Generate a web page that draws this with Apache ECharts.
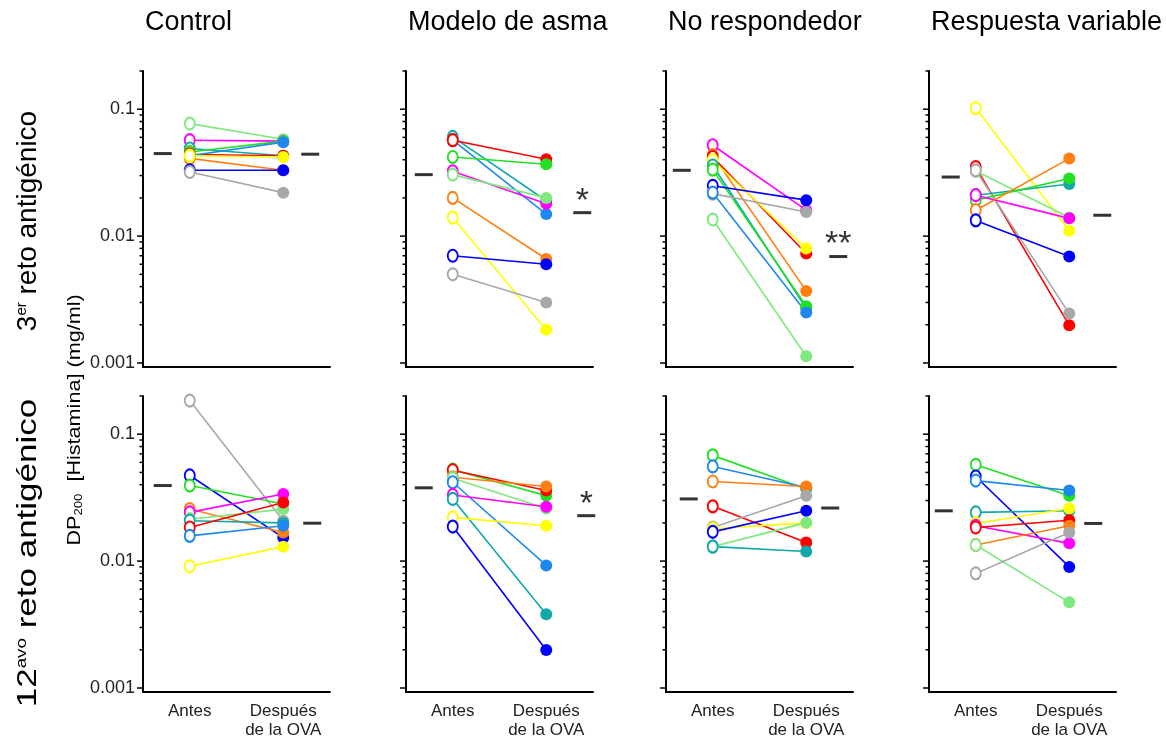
<!DOCTYPE html>
<html>
<head>
<meta charset="utf-8">
<script src="https://cdn.jsdelivr.net/npm/echarts@6/dist/echarts.min.js"></script>
<style>
  html, body { margin: 0; padding: 0; background: #fff; }
  #chart { width: 1166px; height: 740px; }
</style>
</head>
<body>
<div id="chart"></div>
<script>
// columnas y categorias
var groups = ['Control', 'Modelo de asma', 'No respondedor', 'Respuesta variable'];
var categories = ['Antes', 'Después\nde la OVA'];
var tickLabels = { '-3': '0.001', '-2': '0.01', '-1': '0.1' };
var decades = [0.001, 0.01, 0.1];
var minorSteps = [2, 3, 4, 5, 6, 7, 8, 9];

// 3er reto antigenico
var control3Ids = ['verdeClaro', 'magenta', 'turquesa', 'verde', 'rojo', 'azulCielo', 'naranja', 'amarillo', 'azul', 'gris'];
var control3Antes = [0.077, 0.057, 0.049, 0.046, 0.044, 0.043, 0.041, 0.043, 0.033, 0.032];
var control3Despues = [0.058, 0.056, 0.043, 0.056, 0.043, 0.055, 0.033, 0.042, 0.033, 0.022];
var control3Media = [0.0447, 0.0442];

var asma3Ids = ['turquesa', 'azulCielo', 'rojo', 'verde', 'magenta', 'verdeClaro', 'naranja', 'amarillo', 'azul', 'gris'];
var asma3Antes = [0.0605, 0.057, 0.057, 0.042, 0.0324, 0.0305, 0.020, 0.014, 0.007, 0.005];
var asma3Despues = [0.019, 0.0149, 0.0403, 0.0368, 0.018, 0.020, 0.0066, 0.00183, 0.006, 0.003];
var asma3Media = [0.0305, 0.0153];

var noResp3Ids = ['magenta', 'naranja', 'rojo', 'amarillo', 'turquesa', 'verde', 'azul', 'gris', 'azulCielo', 'verdeClaro'];
var noResp3Antes = [0.052, 0.0434, 0.042, 0.0396, 0.036, 0.0334, 0.0249, 0.0216, 0.022, 0.0135];
var noResp3Despues = [0.016, 0.0037, 0.0073, 0.008, 0.0027, 0.0028, 0.0192, 0.0155, 0.0025, 0.00113];
var noResp3Media = [0.033, 0.0069];

var varia3Ids = ['amarillo', 'rojo', 'verdeClaro', 'gris', 'turquesa', 'verde', 'magenta', 'naranja', 'azul'];
var varia3Antes = [0.102, 0.035, 0.0326, 0.033, 0.021, 0.0192, 0.021, 0.016, 0.0133];
var varia3Despues = [0.011, 0.00198, 0.014, 0.00245, 0.0257, 0.0284, 0.0138, 0.0408, 0.0069];
var varia3Media = [0.0292, 0.0146];

// 12avo reto antigenico
var control12Ids = ['gris', 'azul', 'verde', 'naranja', 'magenta', 'verdeClaro', 'turquesa', 'rojo', 'azulCielo', 'amarillo'];
var control12Antes = [0.184, 0.0473, 0.0394, 0.0257, 0.0242, 0.0214, 0.0208, 0.0184, 0.0158, 0.0091];
var control12Despues = [0.0208, 0.0153, 0.0282, 0.0168, 0.0338, 0.0257, 0.020, 0.029, 0.019, 0.013];
var control12Media = [0.0394, 0.0199];

var asma12Ids = ['verde', 'rojo', 'naranja', 'verdeClaro', 'azulCielo', 'magenta', 'turquesa', 'amarillo', 'azul'];
var asma12Antes = [0.0525, 0.052, 0.0458, 0.045, 0.0418, 0.0332, 0.0309, 0.0221, 0.0187];
var asma12Despues = [0.0328, 0.036, 0.0387, 0.026, 0.00925, 0.0268, 0.00382, 0.019, 0.00199];
var asma12Media = [0.0378, 0.0228];

var noResp12Ids = ['verde', 'azulCielo', 'naranja', 'rojo', 'gris', 'amarillo', 'azul', 'verdeClaro', 'turquesa'];
var noResp12Antes = [0.0681, 0.0557, 0.0424, 0.027, 0.0184, 0.018, 0.017, 0.013, 0.013];
var noResp12Despues = [0.037, 0.038, 0.0387, 0.014, 0.0328, 0.020, 0.0249, 0.0201, 0.0119];
var noResp12Media = [0.0309, 0.0262];

var varia12Ids = ['verde', 'azul', 'azulCielo', 'turquesa', 'amarillo', 'magenta', 'rojo', 'naranja', 'verdeClaro', 'gris'];
var varia12Antes = [0.0574, 0.0464, 0.0431, 0.0242, 0.0198, 0.019, 0.0184, 0.0134, 0.0134, 0.008];
var varia12Despues = [0.0328, 0.009, 0.036, 0.0249, 0.026, 0.0138, 0.021, 0.019, 0.00473, 0.0168];
var varia12Media = [0.0249, 0.0198];

// significancia (texto sobre la media despues)
var signif = ['', '*', '**', '', '', '*', '', ''];

// estilos
var palette = {
  rojo: '#ff0000', verde: '#22e022', verdeClaro: '#7fe87f', magenta: '#ff00ff',
  azul: '#0000ff', azulCielo: '#1e88f0', turquesa: '#10a8a8', naranja: '#ff8010',
  amarillo: '#ffff00', gris: '#a8a8a8'
};
var FONT = 'Liberation Sans, Arial, sans-serif';
var lefts = [143, 406, 666, 929];
var tops = [71, 396];
var W = 187, H = 296;
// desplazamiento (px) de las barras de media respecto a cada categoria
var meanOffsets = [[-27, 27], [-29, 36], [-31, 32], [-25, 33], [-27, 29], [-29, 40], [-24, 24], [-32, 24]];

var panels = [
  [control3Ids, control3Antes, control3Despues, control3Media],
  [asma3Ids, asma3Antes, asma3Despues, asma3Media],
  [noResp3Ids, noResp3Antes, noResp3Despues, noResp3Media],
  [varia3Ids, varia3Antes, varia3Despues, varia3Media],
  [control12Ids, control12Antes, control12Despues, control12Media],
  [asma12Ids, asma12Antes, asma12Despues, asma12Media],
  [noResp12Ids, noResp12Antes, noResp12Despues, noResp12Media],
  [varia12Ids, varia12Antes, varia12Despues, varia12Media]
];

var tickData = [];
decades.forEach(function (d) {
  tickData.push([0, d, 1]);
  minorSteps.forEach(function (k) {
    var v = +(k * d).toPrecision(3);
    if (v <= 0.2) tickData.push([0, v, 0]);
  });
});

var grid = [], xAxis = [], yAxis = [], series = [], title = [];

groups.forEach(function (g, c) {
  title.push({
    text: g, left: lefts[c] + 2, top: 9, padding: 0,
    textStyle: { fontFamily: FONT, fontSize: 27, fontWeight: 'normal', color: '#000' }
  });
});

for (var p = 0; p < 8; p++) {
  var row = Math.floor(p / 4), col = p % 4;
  grid.push({ left: lefts[col], top: tops[row], width: W, height: H });
  xAxis.push({
    type: 'category', gridIndex: p, data: categories, boundaryGap: true,
    axisLine: { lineStyle: { color: '#000', width: 2 } },
    axisTick: { alignWithLabel: true, length: 5, lineStyle: { color: '#000', width: 1.5 } },
    axisLabel: {
      show: row === 1, color: '#222', fontFamily: FONT, fontSize: 17,
      lineHeight: 19, margin: 10, interval: 0
    },
    splitLine: { show: false }
  });
  yAxis.push({
    type: 'log', logBase: 10, gridIndex: p, min: 0.00093, max: 0.2,
    axisLine: { show: true, onZero: false, lineStyle: { color: '#000', width: 2 } },
    axisTick: { show: false },
    splitLine: { show: false },
    axisLabel: {
      show: col === 0, color: '#222', fontFamily: FONT, fontSize: 18, margin: 8,
      showMinLabel: false, showMaxLabel: false,
      formatter: function (v) {
        var l = Math.log10(v), r = Math.round(l);
        return Math.abs(l - r) < 1e-6 ? (tickLabels[r] || '') : '';
      }
    }
  });

  // marcas del eje logaritmico
  series.push({
    type: 'custom', xAxisIndex: p, yAxisIndex: p, silent: true, clip: false,
    data: tickData,
    renderItem: function (params, api) {
      var y = api.coord([api.value(0), api.value(1)])[1];
      var x = params.coordSys.x;
      var len = api.value(2) ? 6 : 3.5;
      return {
        type: 'line',
        shape: { x1: x - len, y1: y, x2: x, y2: y },
        style: { stroke: '#000', lineWidth: 1.5 }
      };
    }
  });

  var pd = panels[p];
  pd[0].forEach(function (id, i) {
    series.push({
      type: 'line', xAxisIndex: p, yAxisIndex: p,
      symbolSize: 11, showSymbol: true, silent: true,
      itemStyle: { color: palette[id], borderWidth: 2 },
      lineStyle: { color: palette[id], width: 1.6 },
      data: [
        { value: pd[1][i], symbol: 'emptyCircle', symbolSize: [10, 12] },
        { value: pd[2][i], symbol: 'circle', symbolSize: 12 }
      ],
      z: 3
    });
  });

  // medias
  series.push({
    type: 'scatter', xAxisIndex: p, yAxisIndex: p, silent: true,
    symbol: 'rect', symbolSize: [18, 3], itemStyle: { color: '#000' },
    data: [
      { value: [0, pd[3][0]], symbolOffset: [meanOffsets[p][0], 0] },
      {
        value: [1, pd[3][1]], symbolOffset: [meanOffsets[p][1], 0],
        label: {
          show: signif[p] !== '', formatter: signif[p], position: 'top',
          offset: [0, 12], fontSize: 34, fontFamily: FONT, color: '#000'
        }
      }
    ],
    z: 4
  });
}

var option = {
  animation: false,
  backgroundColor: '#fff',
  title: title,
  grid: grid,
  xAxis: xAxis,
  yAxis: yAxis,
  series: series,
  graphic: [
    {
      type: 'text', x: 28, y: 221, rotation: Math.PI / 2,
      style: {
        text: '3{sup|er} reto antigénico', fill: '#000',
        font: '28px ' + FONT, align: 'center', verticalAlign: 'middle',
        rich: { sup: { fontSize: 15, fontFamily: FONT, verticalAlign: 'top', fill: '#000' } }
      }
    },
    {
      type: 'text', x: 28, y: 553, rotation: Math.PI / 2, scaleX: 1.25,
      style: {
        text: '12{sup|avo} reto antigénico', fill: '#000',
        font: '28px ' + FONT, align: 'center', verticalAlign: 'middle',
        rich: { sup: { fontSize: 15, fontFamily: FONT, verticalAlign: 'top', fill: '#000' } }
      }
    },
    {
      type: 'text', x: 75, y: 420, rotation: Math.PI / 2, scaleX: 1.2,
      style: {
        text: 'DP{sub|200}  [Histamina] (mg/ml)', fill: '#000',
        font: '18px ' + FONT, align: 'center', verticalAlign: 'middle',
        rich: { sub: { fontSize: 11, fontFamily: FONT, verticalAlign: 'bottom', fill: '#000' } }
      }
    }
  ]
};

var myChart = echarts.init(document.getElementById('chart'));
myChart.setOption(option);
</script>
</body>
</html>
